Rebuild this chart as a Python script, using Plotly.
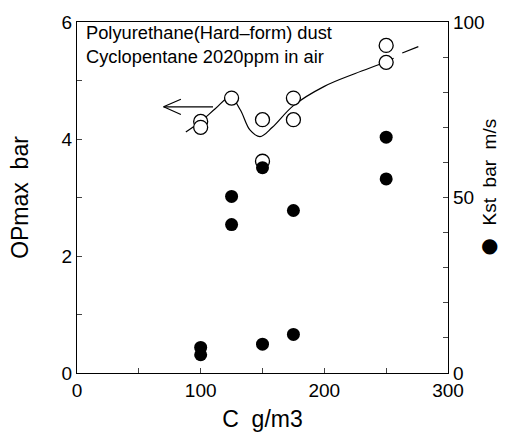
import plotly.graph_objects as go

# Open circles: Pmax (left axis, bar)
pmax_c = [100, 100, 125, 150, 150, 175, 175, 250, 250]
pmax_v = [4.3, 4.2, 4.7, 4.33, 3.62, 4.7, 4.33, 5.6, 5.31]

# Filled circles: Kst (right axis, bar m/s)
kst_c = [100, 100, 125, 125, 150, 150, 175, 175, 250, 250]
kst_v = [7.3, 5.2, 50.3, 42.3, 58.5, 8.2, 46.3, 11.0, 67.2, 55.3]

# Hand-drawn fit line through Pmax (knots)
fit_c = [88, 100, 112, 124, 132, 140, 148, 158, 175, 200, 225, 250, 256]
fit_v = [4.12, 4.3, 4.52, 4.72, 4.5, 4.15, 4.04, 4.2, 4.57, 4.9, 5.12, 5.32, 5.38]
dash_c = [263, 276]
dash_v = [5.47, 5.58]

# Arrow pointing to left axis (shaft and open head barbs)
arrow_c = [110, 70]
arrow_v = [4.55, 4.55]
barb_c = [84, 70, 84]
barb_v = [4.68, 4.55, 4.42]

font = "Liberation Sans, Arial, sans-serif"

fig = go.Figure()
fig.add_trace(go.Scatter(x=fit_c, y=fit_v, mode="lines", line=dict(color="black", width=1.2, shape="spline", smoothing=1.0), showlegend=False))
fig.add_trace(go.Scatter(x=dash_c, y=dash_v, mode="lines", line=dict(color="black", width=1.2), showlegend=False))
fig.add_trace(go.Scatter(x=arrow_c, y=arrow_v, mode="lines", line=dict(color="black", width=1.2), showlegend=False))
fig.add_trace(go.Scatter(x=barb_c, y=barb_v, mode="lines", line=dict(color="black", width=1.2), showlegend=False))
fig.add_trace(go.Scatter(x=kst_c, y=kst_v, mode="markers", yaxis="y2",
                         marker=dict(symbol="circle", size=13, color="black"), showlegend=False))
fig.add_trace(go.Scatter(x=pmax_c, y=pmax_v, mode="markers",
                         marker=dict(symbol="circle", size=14, color="white", line=dict(color="black", width=1.3)), showlegend=False))

fig.add_annotation(x=0.02, y=1.005, xref="paper", yref="paper", xanchor="left", yanchor="top", showarrow=False, align="left",
                   text="Polyurethane(Hard–form) dust<br>Cyclopentane 2020ppm in air",
                   font=dict(family=font, size=18.3, color="black"))

fig.add_annotation(x=1.113, y=0.574, xref="paper", yref="paper", xanchor="center", yanchor="middle", showarrow=False,
                   text="Kst  bar  m/s", textangle=-90, font=dict(family=font, size=19, color="black"))
fig.add_annotation(x=1.113, y=0.364, xref="paper", yref="paper", xanchor="center", yanchor="middle", showarrow=False,
                   text="●", font=dict(family="DejaVu Sans", size=20, color="black"))

left_vals = [0, 1, 2, 3, 4, 5, 6]
left_text = ["0", "", "2", "", "4", "", "6"]
right_vals = list(range(0, 101, 10))
right_text = ["0", "", "", "", "", "50", "", "", "", "", "100"]
x_vals = [0, 50, 100, 150, 200, 250, 300]
x_text = ["0", "", "100", "", "200", "", "300"]

fig.update_layout(
    width=507, height=439,
    margin=dict(l=77, r=59, t=18, b=64),
    paper_bgcolor="white", plot_bgcolor="white",
    font=dict(family=font, size=19, color="black"),
    xaxis=dict(range=[0, 300], tickvals=x_vals, ticktext=x_text, ticks="inside", ticklen=5,
               showline=True, linecolor="black", linewidth=1.3, mirror=True, showgrid=False, zeroline=False,
               title=dict(text="C  g/m3", standoff=10), tickfont=dict(size=19)),
    yaxis=dict(range=[0, 6], tickvals=left_vals, ticktext=left_text, ticks="inside", ticklen=5,
               showline=True, linecolor="black", linewidth=1.3, showgrid=False, zeroline=False,
               title=dict(text="OPmax  bar", standoff=26), tickfont=dict(size=19)),
    yaxis2=dict(range=[0, 100], overlaying="y", side="right", tickvals=right_vals, ticktext=right_text,
                ticks="inside", ticklen=5, showline=True, linecolor="black", linewidth=1.3,
                showgrid=False, zeroline=False, tickfont=dict(size=19)),
)

fig.write_html("out.html")
